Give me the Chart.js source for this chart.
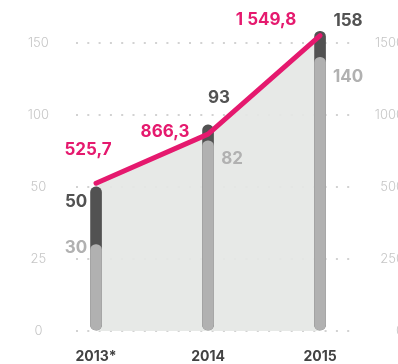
<!DOCTYPE html>
<html lang="ru">
<head>
  <meta charset="UTF-8">
  <title>Chart</title>
  <script src="https://cdn.jsdelivr.net/npm/chart.js"></script>
  <style>
    html, body { margin: 0; padding: 0; background: #fff; overflow: hidden; }
  </style>
</head>
<body>
  <canvas id="myChart" width="404" height="364"></canvas>

  <script>
    const categories = ['2013*', '2014', '2015'];
    const totals = [50, 93, 158];        // dark bars, left axis
    const parts = [30, 82, 140];         // light bars, left axis
    const lineValues = [525.7, 866.3, 1549.8]; // pink line, right axis
    const leftTicks = [0, 25, 50, 100, 150];
    const rightTicks = [0, 250, 500, 1000, 1500];

    const PINK = '#e5196e';
    const DARK = '#525252';
    const LIGHT = '#b1b1b1';

    // axis with equal spacing between uneven tick values
    class BrokenScale extends Chart.LinearScale {
      warp(v) {
        const b = this.options.breaks;
        if (v <= b[0]) return 0;
        for (let i = 1; i < b.length; i++) {
          if (v <= b[i]) return i - 1 + (v - b[i - 1]) / (b[i] - b[i - 1]);
        }
        const n = b.length - 1;
        return n + (v - b[n]) / (b[n] - b[n - 1]);
      }
      unwarp(u) {
        const b = this.options.breaks;
        const n = b.length - 1;
        const i = Math.max(0, Math.min(n - 1, Math.floor(u)));
        return b[i] + (u - i) * (b[i + 1] - b[i]);
      }
      buildTicks() {
        return this.options.breaks.map(v => ({ value: v }));
      }
      getPixelForValue(v) {
        return super.getPixelForValue(this.warp(v));
      }
      getValueForPixel(px) {
        return this.unwarp(super.getValueForPixel(px));
      }
    }
    BrokenScale.id = 'broken';
    BrokenScale.defaults = {};
    Chart.register(BrokenScale);

    // value labels next to bars and line points: offsets per dataset
    const labelOffsets = {
      0: [[-8, -33], [-43, -2], [-54, -16]],
      1: [[-20, 3], [24, 18], [28, 20]],
      2: [[-20, 15], [11, -27], [28, -10]]
    };
    const labelColors = { 0: PINK, 1: LIGHT, 2: DARK };

    const valueLabels = {
      id: 'valueLabels',
      afterDatasetsDraw(chart) {
        const ctx = chart.ctx;
        ctx.save();
        ctx.font = '700 17px Inter';
        ctx.textAlign = 'center';
        ctx.textBaseline = 'middle';
        chart.data.datasets.forEach((ds, di) => {
          const meta = chart.getDatasetMeta(di);
          meta.data.forEach((el, i) => {
            const v = ds.data[i].y;
            const txt = di === 0
              ? v.toFixed(1).replace('.', ',').replace(/^(\d)(\d{3})/, '$1 $2')
              : String(v);
            const [dx, dy] = labelOffsets[di][i];
            ctx.fillStyle = labelColors[di];
            ctx.fillText(txt, el.x + dx, el.y + dy);
          });
        });
        ctx.restore();
      }
    };

    const toPoints = arr => arr.map((v, i) => ({ x: i, y: v }));

    const data = {
      datasets: [
        {
          type: 'line',
          data: toPoints(lineValues),
          yAxisID: 'y1',
          borderColor: PINK,
          borderWidth: 5,
          borderCapStyle: 'round',
          borderJoinStyle: 'round',
          pointRadius: 0,
          tension: 0,
          fill: 'origin',
          backgroundColor: 'rgba(229,231,229,0.93)',
          order: 0
        },
        {
          type: 'bar',
          data: toPoints(parts),
          yAxisID: 'y',
          backgroundColor: LIGHT,
          barThickness: 11,
          borderRadius: 6,
          borderSkipped: false,
          grouped: false,
          order: 1
        },
        {
          type: 'bar',
          data: toPoints(totals),
          yAxisID: 'y',
          backgroundColor: DARK,
          barThickness: 11,
          borderRadius: 6,
          borderSkipped: false,
          grouped: false,
          order: 2
        }
      ]
    };

    const tickFont = { family: 'Inter', size: 13, weight: 300 };

    // fixed axis sizes, no extra padding pushed into the chart area
    const fixSize = (w, h) => s => {
      if (w !== null) s.width = w;
      if (h !== null) s.height = h;
      s.paddingTop = 0;
      s.paddingBottom = 0;
      s.paddingLeft = 0;
      s.paddingRight = 0;
    };

    const config = {
      type: 'bar',
      data: data,
      plugins: [valueLabels],
      options: {
        responsive: false,
        animation: false,
        events: [],
        layout: { padding: { top: 14, left: 0, right: 0, bottom: 0 } },
        plugins: {
          legend: { display: false },
          tooltip: { enabled: false },
          filler: { drawTime: 'beforeDatasetsDraw' }
        },
        scales: {
          x: {
            type: 'linear',
            offset: false,
            min: -0.179,
            max: 2.312,
            bounds: 'data',
            afterBuildTicks: s => { s.ticks = categories.map((c, i) => ({ value: i })); },
            afterFit: fixSize(null, 33),
            grid: { display: false, drawTicks: false },
            border: { display: false },
            ticks: {
              autoSkip: false,
              maxRotation: 0,
              padding: 17,
              color: '#424242',
              font: { family: 'Inter', size: 14, weight: 700 },
              callback: v => categories[v]
            }
          },
          y: {
            type: 'broken',
            position: 'left',
            breaks: leftTicks,
            min: 0,
            max: 4.4,
            afterFit: fixSize(76, null),
            grid: { color: '#d2d2d2', lineWidth: 2, drawTicks: false },
            border: { display: false, dash: [2, 9.3] },
            ticks: {
              autoSkip: false,
              padding: 27,
              crossAlign: 'center',
              color: '#c6c6c6',
              font: tickFont,
              callback: v => String(v)
            }
          },
          y1: {
            type: 'broken',
            position: 'right',
            breaks: rightTicks,
            min: 0,
            max: 4.4,
            afterFit: fixSize(49, null),
            grid: { display: false, drawTicks: false },
            border: { display: false },
            ticks: {
              autoSkip: false,
              padding: 0,
              crossAlign: 'far',
              color: '#c6c6c6',
              font: tickFont,
              callback: v => String(v)
            }
          }
        }
      }
    };

    const ctx = document.getElementById('myChart').getContext('2d');
    const myChart = new Chart(ctx, config);
  </script>
</body>
</html>
